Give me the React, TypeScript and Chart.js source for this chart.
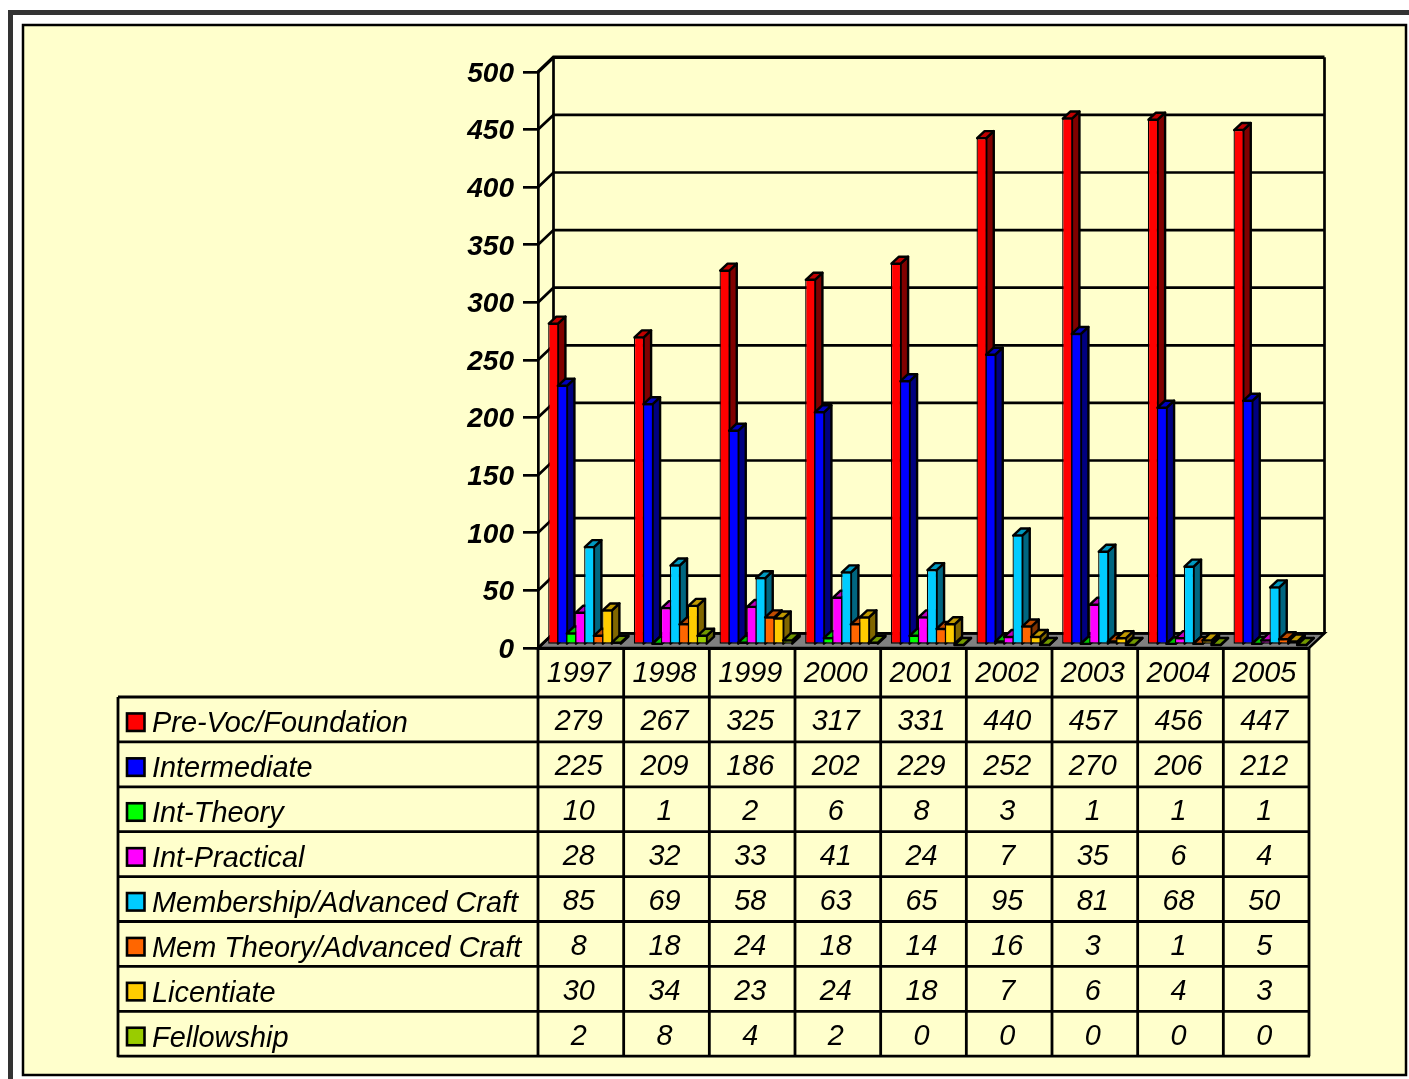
import React, { useEffect, useRef } from "react";
import { Chart, registerables } from "chart.js";

Chart.register(...registerables);

const years = ["1997", "1998", "1999", "2000", "2001", "2002", "2003", "2004", "2005"];
const preVoc = [279, 267, 325, 317, 331, 440, 457, 456, 447];
const intermediate = [225, 209, 186, 202, 229, 252, 270, 206, 212];
const intTheory = [10, 1, 2, 6, 8, 3, 1, 1, 1];
const intPractical = [28, 32, 33, 41, 24, 7, 35, 6, 4];
const membership = [85, 69, 58, 63, 65, 95, 81, 68, 50];
const memTheory = [8, 18, 24, 18, 14, 16, 3, 1, 5];
const licentiate = [30, 34, 23, 24, 18, 7, 6, 4, 3];
const fellowship = [2, 8, 4, 2, 0, 0, 0, 0, 0];

const seriesNames = [
  "Pre-Voc/Foundation",
  "Intermediate",
  "Int-Theory",
  "Int-Practical",
  "Membership/Advanced Craft",
  "Mem Theory/Advanced Craft",
  "Licentiate",
  "Fellowship",
];
const seriesValues = [preVoc, intermediate, intTheory, intPractical, membership, memTheory, licentiate, fellowship];
const frontColors = ["#FF0000", "#0000FF", "#00FF00", "#FF00FF", "#00CCFF", "#FF6600", "#FFCC00", "#99CC00"];
const sideColors = ["#800000", "#000080", "#008000", "#800080", "#006680", "#803300", "#806600", "#666600"];
const topColors = ["#C00000", "#0000C0", "#00C000", "#C000C0", "#0099C0", "#C04C00", "#C09900", "#739900"];

const FONT = '"Liberation Sans", Arial, sans-serif';
const PAPER = "#FFFFCC";
const DEPTH_X = 15.5;
const DEPTH_Y = 14.7;
const BAR_OFFSET = { x: 4, y: -3 };
const BAR_DEPTH = { x: 7.5, y: 7 };
const TABLE = { left: 118, head: 697, rowH: 44.9 };

const threeD = {
  id: "threeD",
  beforeDraw(chart: any) {
    const { ctx, chartArea: a, scales } = chart;
    const y = scales.y;
    ctx.save();
    ctx.fillStyle = "#fff";
    ctx.fillRect(0, 0, chart.width, chart.height);
    // page frame
    ctx.fillStyle = "#333";
    ctx.fillRect(8, 10, chart.width, 5);
    ctx.fillRect(8, 10, 5, chart.height);
    ctx.fillStyle = PAPER;
    ctx.fillRect(23, 25, 1383, 1050);
    ctx.strokeStyle = "#000";
    ctx.lineWidth = 2.5;
    ctx.strokeRect(23, 25, 1383, 1050);
    // floor
    ctx.fillStyle = "#808080";
    ctx.beginPath();
    ctx.moveTo(a.left, a.bottom);
    ctx.lineTo(a.left + DEPTH_X, a.bottom - DEPTH_Y);
    ctx.lineTo(a.right + DEPTH_X, a.bottom - DEPTH_Y);
    ctx.lineTo(a.right, a.bottom);
    ctx.closePath();
    ctx.fill();
    ctx.stroke();
    // walls
    for (const v of y.ticks.map((t: any) => t.value)) {
      const py = y.getPixelForValue(v);
      ctx.lineWidth = v === y.max ? 3.4 : 2.7;
      ctx.beginPath();
      ctx.moveTo(a.left, py);
      ctx.lineTo(a.left + DEPTH_X, py - DEPTH_Y);
      ctx.lineTo(a.right + DEPTH_X, py - DEPTH_Y);
      ctx.stroke();
    }
    ctx.lineWidth = 2.7;
    ctx.beginPath();
    ctx.moveTo(a.left + DEPTH_X, a.top - DEPTH_Y);
    ctx.lineTo(a.left + DEPTH_X, a.bottom - DEPTH_Y);
    ctx.moveTo(a.right + DEPTH_X, a.top - DEPTH_Y);
    ctx.lineTo(a.right + DEPTH_X, a.bottom - DEPTH_Y);
    ctx.stroke();
    ctx.restore();
  },
  beforeDatasetsDraw(chart: any) {
    const { ctx } = chart;
    const metas = chart.getSortedVisibleDatasetMetas();
    ctx.save();
    ctx.translate(BAR_OFFSET.x, BAR_OFFSET.y);
    metas.forEach((meta: any) => {
      const i = meta.index;
      ctx.strokeStyle = "#000";
      ctx.lineWidth = 2.4;
      ctx.lineJoin = "round";
      meta.data.forEach((bar: any) => {
        const p = bar.getProps(["x", "y", "base", "width"], true);
        const l = p.x - p.width / 2 + 0.6;
        const r = p.x + p.width / 2 - 0.6;
        const dx = BAR_DEPTH.x;
        const dy = BAR_DEPTH.y;
        ctx.fillStyle = sideColors[i];
        ctx.beginPath();
        ctx.moveTo(r, p.y);
        ctx.lineTo(r + dx, p.y - dy);
        ctx.lineTo(r + dx, p.base - dy);
        ctx.lineTo(r, p.base);
        ctx.closePath();
        ctx.fill();
        ctx.stroke();
        ctx.fillStyle = topColors[i];
        ctx.beginPath();
        ctx.moveTo(l, p.y);
        ctx.lineTo(l + dx, p.y - dy);
        ctx.lineTo(r + dx, p.y - dy);
        ctx.lineTo(r, p.y);
        ctx.closePath();
        ctx.fill();
        ctx.stroke();
      });
      meta.controller.draw();
    });
    ctx.restore();
    return false;
  },
  afterDraw(chart: any) {
    const { ctx, chartArea: a, scales } = chart;
    const colW = (a.right - a.left) / years.length;
    const rows = seriesNames.length;
    const bottom = TABLE.head + rows * TABLE.rowH;
    ctx.save();
    ctx.strokeStyle = "#000";
    ctx.lineWidth = 2.8;
    ctx.beginPath();
    for (let c = 0; c <= years.length; c++) {
      const x = a.left + c * colW;
      ctx.moveTo(x, a.bottom);
      ctx.lineTo(x, bottom);
    }
    ctx.moveTo(TABLE.left, TABLE.head);
    ctx.lineTo(TABLE.left, bottom + 1);
    for (let r = 0; r <= rows; r++) {
      const y = TABLE.head + r * TABLE.rowH;
      ctx.moveTo(TABLE.left, y);
      ctx.lineTo(a.right + 1, y);
    }
    ctx.stroke();
    ctx.fillStyle = "#000";
    ctx.textBaseline = "middle";
    seriesNames.forEach((name, r) => {
      const cy = TABLE.head + (r + 0.5) * TABLE.rowH;
      ctx.fillStyle = frontColors[r];
      ctx.fillRect(127, cy - 6, 17.5, 17.5);
      ctx.strokeStyle = "#000";
      ctx.lineWidth = 2.6;
      ctx.strokeRect(127, cy - 6, 17.5, 17.5);
      ctx.fillStyle = "#000";
      ctx.textAlign = "left";
      ctx.font = `italic 28.9px ${FONT}`;
      ctx.fillText(name, 152, cy + 5);
      ctx.textAlign = "center";
      ctx.font = `italic 28.8px ${FONT}`;
      seriesValues[r].forEach((v, c) => {
        ctx.fillText(String(v), scales.x.getPixelForValue(c) - 2, cy + 3);
      });
    });
    ctx.restore();
  },
};

export default function App() {
  const ref = useRef<HTMLCanvasElement>(null);
  useEffect(() => {
    const chart = new Chart(ref.current!, {
      type: "bar",
      plugins: [threeD],
      data: {
        labels: years,
        datasets: seriesNames.map((name, i) => ({
          label: name,
          data: seriesValues[i],
          backgroundColor: frontColors[i],
          borderColor: "#000",
          borderWidth: 1.3,
          borderSkipped: false,
          barPercentage: 1.15,
          categoryPercentage: 0.84,
        })),
      },
      options: {
        animation: false,
        responsive: false,
        layout: { padding: { left: 0, top: 72, right: 100, bottom: 381 } },
        plugins: { legend: { display: false }, title: { display: false }, tooltip: { enabled: false } },
        scales: {
          x: {
            afterFit: (s: any) => { s.height = 50; },
            grid: { drawOnChartArea: false, drawTicks: false },
            border: { display: true, color: "#000", width: 3 },
            ticks: {
              autoSkip: false,
              maxRotation: 0,
              padding: 9,
              labelOffset: -2,
              color: "#000",
              font: { family: FONT, size: 28.8, style: "italic" },
            },
          },
          y: {
            min: 0,
            max: 500,
            afterFit: (s: any) => { s.width = 538; },
            grid: { drawOnChartArea: false, drawTicks: true, tickLength: 15, color: "#000", lineWidth: 2.7 },
            border: { display: true, color: "#000", width: 2.7 },
            ticks: {
              stepSize: 50,
              padding: 9,
              labelOffset: 2,
              color: "#000",
              font: { family: FONT, size: 28, style: "italic", weight: "bold" },
            },
          },
        },
      },
    } as any);
    return () => chart.destroy();
  }, []);
  return (
    <canvas
      ref={ref}
      width={1409}
      height={1079}
      style={{ position: "absolute", left: 0, top: 0, width: 1409, height: 1079 }}
    />
  );
}
